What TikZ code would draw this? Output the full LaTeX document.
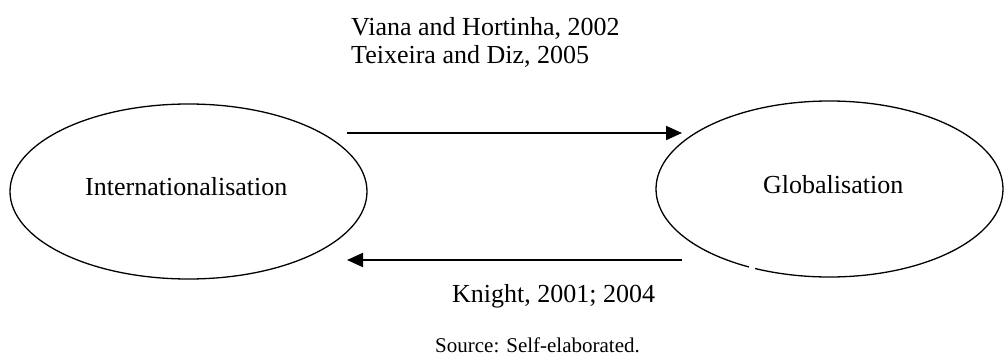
\documentclass[tikz,border=0pt]{standalone}
\usepackage{fontspec}
\setmainfont{Liberation Serif}
\usetikzlibrary{shapes.geometric,arrows.meta}
\begin{document}
\begin{tikzpicture}[x=1pt,y=-1pt,
  concept/.style={ellipse,draw,line width=1.3pt,inner sep=0pt},
  lbl/.style={anchor=base west,inner sep=0pt,font=\fontsize{26}{28}\selectfont},
  note/.style={anchor=base west,inner sep=0pt,font=\fontsize{21}{24}\selectfont},
  flow/.style={line width=2pt,-{Triangle[length=16pt,width=14pt]}}]
\useasboundingbox (0,0) rectangle (1005,356);

% the two concepts
\node[concept,minimum width=357pt,minimum height=175pt] (intl) at (188.5,191.5) {};
\node[concept,minimum width=347pt,minimum height=176pt] (glob) at (829.5,189) {};
\node[lbl] (intlT) at (85,195) {Internationalisation};
\node[lbl] (globT) at (763,193) {Globalisation};
% small break in the outline of the right ellipse
\fill[white] (749,262) rectangle (755,270);

% arrow ends
\coordinate (a1) at (347,133);
\coordinate (a2) at (682,133);
\coordinate (b1) at (682,260);
\coordinate (b2) at (347,260);
\draw[flow] (a1) -- (a2);
\draw[flow] (b1) -- (b2);

% references
\node[lbl] (ref1) at (351,35) {Viana and Hortinha, 2002};
\node[lbl] (ref2) at (351,63) {Teixeira and Diz, 2005};
\node[lbl] (ref3) at (452,302) {Knight, 2001; 2004};
\node[note] (src) at (435,352) {Source: Self-elaborated.};
\end{tikzpicture}
\end{document}
